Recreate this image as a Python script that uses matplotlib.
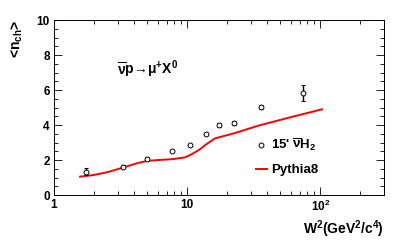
import numpy as np
import matplotlib
matplotlib.use("Agg")
import matplotlib.pyplot as plt
from matplotlib.lines import Line2D
from matplotlib.ticker import MultipleLocator

plt.rcParams['font.family'] = ['Liberation Sans', 'DejaVu Sans']
plt.rcParams['font.weight'] = 'bold'
plt.rcParams['mathtext.fontset'] = 'custom'
plt.rcParams['mathtext.rm'] = 'Liberation Sans:bold'
plt.rcParams['mathtext.it'] = 'Liberation Sans:bold'
plt.rcParams['mathtext.bf'] = 'Liberation Sans:bold'

# data: 15' bubble chamber (anti-nu H2)
w2_data = [1.74, 3.32, 4.98, 7.67, 10.5, 13.8, 17.2, 22.3, 35.8, 74.0]
nch_data = [1.33, 1.62, 2.08, 2.51, 2.86, 3.49, 4.00, 4.10, 5.05, 5.85]
nch_err = [0.2, 0.07, 0.07, 0.07, 0.07, 0.07, 0.12, 0.12, 0.12, 0.45]

# Pythia8 curve
w2_py = [1.57, 2.0, 2.5, 3.3, 4.2, 5.0, 6.0, 7.7, 9.6, 10.5, 11.5, 12.5, 13.8, 16.2, 22.3, 35.5, 60.0, 103.0]
nch_py = [1.05, 1.15, 1.30, 1.57, 1.82, 1.95, 2.0, 2.05, 2.15, 2.28, 2.45, 2.62, 2.88, 3.24, 3.52, 4.0, 4.45, 4.9]

fig = plt.figure(figsize=(3.95, 2.42), dpi=100)
ax = fig.add_axes([0.1367, 0.194, 0.835, 0.723])

ax.plot(w2_py, nch_py, color='red', lw=1.4)
ax.errorbar(w2_data, nch_data, yerr=nch_err, fmt='o', ms=3.5, mfc='white',
            mec='black', mew=0.7, ecolor='black', elinewidth=1, capsize=1.5)

ax.set_xscale('log')
ax.set_xlim(1, 300)
ax.set_ylim(0, 10)
ax.set_xticks([1, 10, 100])
ax.set_xticklabels(['1', '10', '$10^2$'])
ax.yaxis.set_major_locator(MultipleLocator(2))
ax.yaxis.set_minor_locator(MultipleLocator(0.5))
ax.tick_params(which='both', direction='in', top=True, right=True,
               labelsize=8.5, width=0.6, pad=3)
ax.tick_params(which='major', length=6)
ax.tick_params(which='minor', length=3)
for s in ax.spines.values():
    s.set_linewidth(0.7)

ax.text(0.19, 0.69, '$\\overline{\\nu}$p\u2192\u03bc$^{+}$X$^{0}$',
        transform=ax.transAxes, fontsize=10, fontweight='bold')

ax.set_xlabel('W$^2$(GeV$^2$/c$^4$)', fontsize=10, fontweight='bold',
              loc='right', labelpad=3)
ax.set_ylabel('<n$_{ch}$>', fontsize=10, fontweight='bold', loc='top',
              labelpad=8)

handles = [Line2D([], [], ls='none', marker='o', ms=3.5, mfc='white',
                  mec='black', mew=0.7),
           Line2D([], [], color='red', lw=1.4)]
labels = ["15' $\\overline{\\nu}$H$_2$", 'Pythia8']
ax.legend(handles, labels, loc='lower left', bbox_to_anchor=(0.575, 0.04),
          frameon=False, handlelength=0.9, handletextpad=0.3,
          labelspacing=0.8, prop={'weight': 'bold', 'size': 9.5})

fig.savefig('out.png', dpi=100)
